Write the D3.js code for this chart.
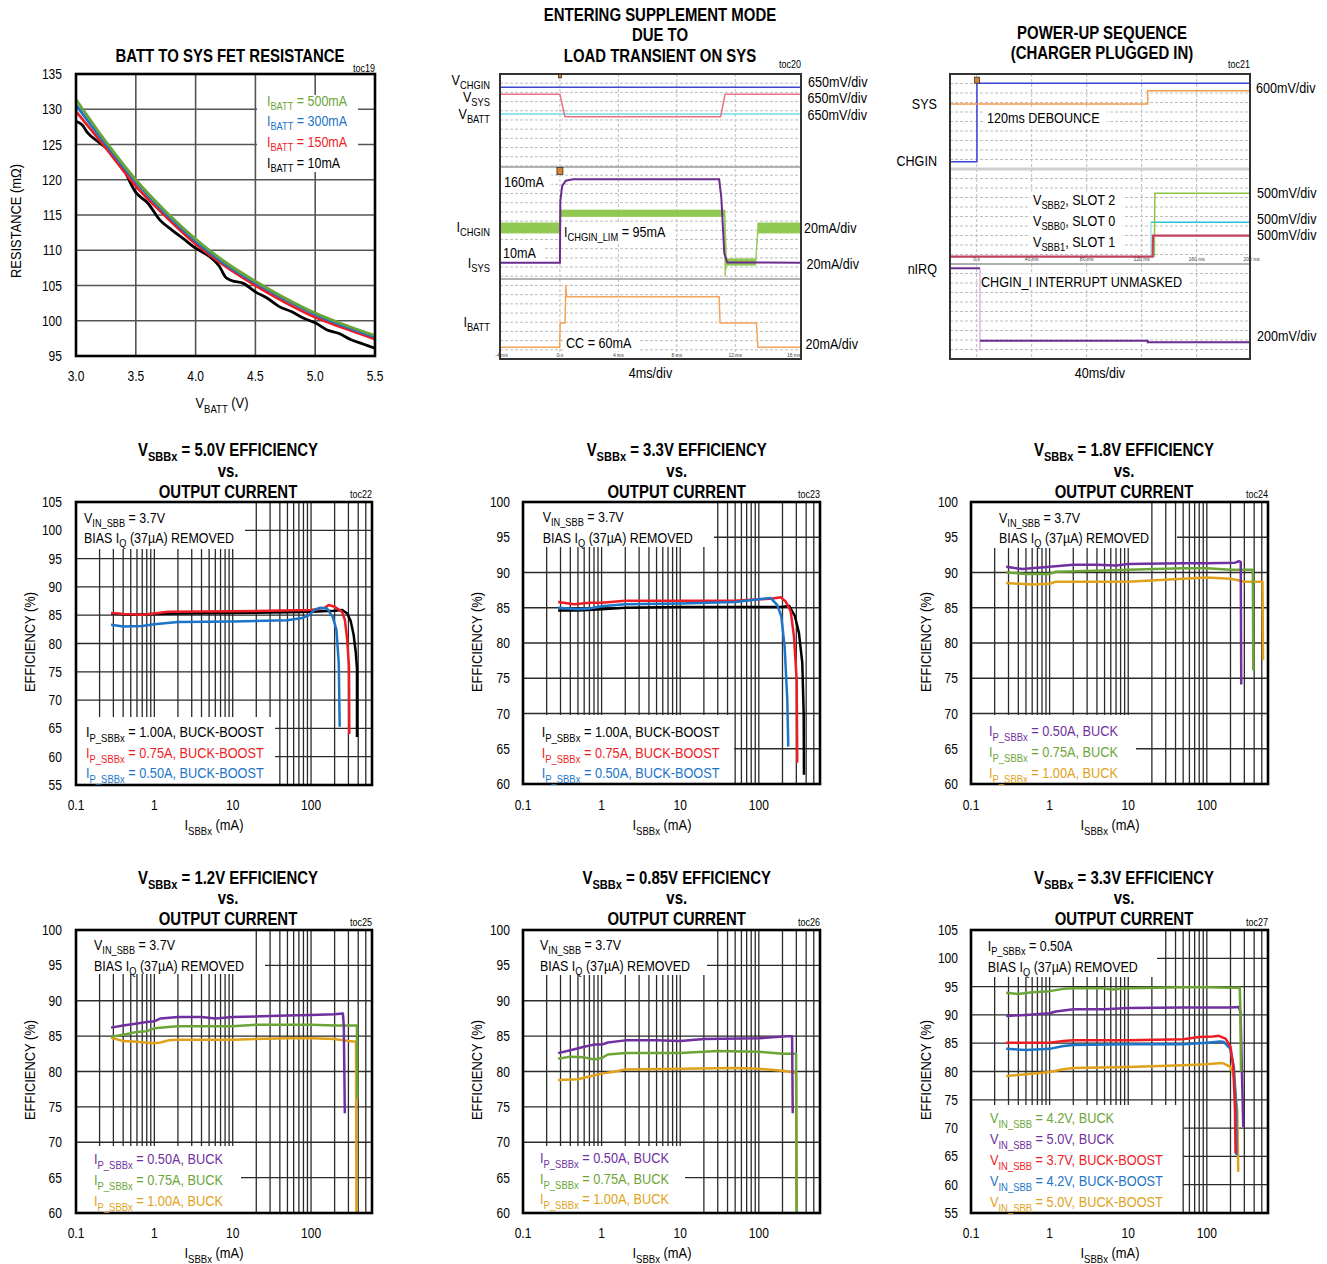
<!DOCTYPE html>
<html><head><meta charset="utf-8">
<script src="https://cdn.jsdelivr.net/npm/d3@7"></script>
<style>body{margin:0;background:#fff;} text{font-family:"Liberation Sans",Arial,sans-serif;white-space:pre;}</style>
</head><body>
<script>
// ================= DATA =================
// toc19 : BATT to SYS FET resistance (mOhm) vs VBATT (V)
const toc19_vbatt = [3.0,3.25,3.5,3.75,4.0,4.25,4.5,4.75,5.0,5.25,5.5];
const toc19_r500 = [131.4,125.4,120.0,115.5,111.6,108.3,105.6,103.2,101.1,99.4,97.9];
const toc19_r300 = [130.6,125.0,119.7,115.2,111.3,108.0,105.4,103.0,100.9,99.2,97.7];
const toc19_r150 = [129.7,124.5,119.1,114.8,110.9,107.7,105.0,102.6,100.5,98.9,97.4];
const toc19_vbatt10 = [3.0,3.05,3.1,3.2,3.3,3.4,3.5,3.6,3.7,3.8,3.9,4.0,4.1,4.2,4.25,4.3,4.4,4.5,4.6,4.7,4.8,4.9,5.0,5.1,5.2,5.3,5.4,5.5];
const toc19_r10 = [128.3,127.8,126.6,125.2,123.8,121.4,118.2,116.7,114.3,112.9,111.6,110.3,109.3,107.7,106.2,105.7,105.3,104.1,103.2,102.0,101.3,100.4,99.7,98.7,98.2,97.3,96.7,96.1];
const toc19_xticks = [3.0,3.5,4.0,4.5,5.0,5.5];
const toc19_yticks = [95,100,105,110,115,120,125,130,135];
const toc19_legend = ['I_{BATT} = 500mA','I_{BATT} = 300mA','I_{BATT} = 150mA','I_{BATT} = 10mA'];

// efficiency curves : [I_SBBx (mA), efficiency (%)]
const toc22_ip100 = [[0.28,85.3],[0.5,85.1],[1,85.2],[2,85.3],[10,85.4],[50,85.5],[100,85.6],[200,85.8],[250,85.9],[290,85.3],[320,84.0],[350,81.5],[372,78.5],[386,75.5],[386,63.5]];
const toc22_ip075 = [[0.28,85.4],[0.4,85.2],[0.7,85.1],[1,85.3],[1.5,85.6],[10,85.7],[100,85.9],[150,86.3],[168,86.8],[200,86.5],[249,85.6],[270,84.2],[288,81.0],[305,76.0],[308,64.0]];
const toc22_ip050 = [[0.28,83.3],[0.4,83.0],[0.7,83.1],[1,83.4],[2,83.8],[10,83.9],[50,84.1],[77,84.5],[95,85.0],[110,85.9],[129,86.3],[160,86.2],[189,84.7],[211,82.4],[226,76.5],[232,65.3]];
const toc23_ip100 = [[0.28,84.6],[0.5,84.6],[1,84.8],[2,85.0],[10,85.1],[100,85.1],[200,85.1],[242,85.3],[288,83.8],[324,81.4],[357,77.2],[372,70],[375,61.3]];
const toc23_ip075 = [[0.28,85.8],[0.45,85.5],[0.7,85.7],[1,85.7],[2,86.0],[10,86.0],[50,86.0],[100,86.2],[150,86.3],[189,86.5],[219,85.9],[254,84.5],[280,80.9],[303,74.8],[306,68],[308,63.0]];
const toc23_ip050 = [[0.28,85.0],[0.5,84.8],[0.7,84.9],[1,85.2],[2,85.5],[10,85.6],[50,85.8],[100,86.2],[141,86.4],[171,85.4],[193,83.8],[213,79.5],[230,72],[237,65.3]];
const toc24_ip050 = [[0.28,90.8],[0.45,90.5],[1,90.8],[2,91.1],[4,91.1],[7,91.0],[10,91.2],[50,91.3],[100,91.3],[230,91.4],[255,91.6],[270,91.5],[274,74.1]];
const toc24_ip075 = [[0.28,90.0],[0.5,89.8],[1,89.8],[1.2,90.1],[5,90.3],[10,90.4],[50,90.6],[100,90.6],[200,90.4],[385,90.4],[390,76.1]];
const toc24_ip100 = [[0.28,88.5],[0.6,88.3],[1,88.4],[1.2,88.7],[10,88.7],[50,89.1],[100,89.3],[200,89.1],[250,88.9],[300,88.7],[510,88.7],[519,77.6]];
const toc25_ip050 = [[0.28,86.2],[0.4,86.5],[0.6,86.8],[0.8,87.0],[1,87.1],[1.2,87.5],[2,87.7],[4,87.7],[6,87.5],[10,87.7],[50,87.9],[100,88.0],[200,88.1],[255,88.2],[262,86.5],[270,74.1]];
const toc25_ip075 = [[0.28,84.9],[0.4,85.2],[0.6,85.6],[0.8,85.7],[1,86.1],[1.5,86.3],[2,86.4],[10,86.4],[20,86.6],[100,86.6],[200,86.5],[385,86.5],[390,76.2]];
const toc25_ip100 = [[0.28,84.8],[0.4,84.3],[0.6,84.2],[1,84.0],[1.2,84.1],[1.5,84.4],[2,84.5],[10,84.5],[50,84.7],[100,84.7],[200,84.6],[300,84.3],[375,84.2],[380,60]];
const toc26_ip050 = [[0.28,82.6],[0.4,83.0],[0.6,83.5],[0.8,83.8],[1,83.8],[1.2,84.1],[2,84.4],[5,84.4],[10,84.3],[20,84.6],[100,84.7],[250,85.0],[265,85.0],[270,74.1]];
const toc26_ip075 = [[0.28,81.8],[0.4,82.1],[0.6,82.0],[0.8,81.7],[1,81.9],[1.2,82.4],[2,82.6],[10,82.6],[30,82.9],[100,82.8],[200,82.5],[298,82.5],[303,60]];
const toc26_ip100 = [[0.28,78.8],[0.5,78.9],[0.7,79.3],[1,79.7],[1.5,80.0],[2,80.3],[10,80.4],[50,80.5],[100,80.4],[200,80.1],[270,79.9],[298,79.8],[303,60]];
const toc27_buck42 = [[0.28,93.9],[0.4,93.7],[0.6,94.0],[1,94.2],[1.5,94.6],[2,94.7],[5,94.7],[6,94.5],[10,94.7],[50,94.9],[100,94.9],[200,94.8],[262,94.8],[268,90.5],[272,80]];
const toc27_buck50 = [[0.28,89.8],[0.5,90.0],[1,90.3],[1.2,90.6],[2,91.0],[5,91.0],[10,91.2],[50,91.3],[100,91.3],[200,91.3],[256,91.4],[269,90.3],[277,82.0],[291,70.2]];
const toc27_bb37 = [[0.28,85.1],[1,85.1],[1.5,85.4],[2,85.5],[10,85.5],[50,85.7],[80,86.1],[120,86.2],[142,86.3],[173,85.8],[200,84.4],[217,80.8],[228,73.2],[232,65.5]];
const toc27_bb42 = [[0.28,84.0],[0.5,83.8],[1,84.0],[1.5,84.5],[2,84.7],[10,84.8],[50,84.8],[100,85.1],[150,85.3],[165,85.2],[197,84.1],[221,80.8],[237,73.2],[239,65.2]];
const toc27_bb50 = [[0.28,79.2],[0.5,79.5],[1,79.9],[1.5,80.4],[2,80.6],[10,80.8],[50,81.1],[100,81.3],[150,81.5],[165,81.4],[200,80.8],[221,79.1],[244,73.2],[251,62.3]];

const eff_xticks = [0.1,1,10,100];
const eff_xtickLabels = ['0.1','1','10','100'];
const toc22_legend = ['I_{P_SBBx} = 1.00A, BUCK-BOOST','I_{P_SBBx} = 0.75A, BUCK-BOOST','I_{P_SBBx} = 0.50A, BUCK-BOOST'];
const buck_legend = ['I_{P_SBBx} = 0.50A, BUCK','I_{P_SBBx} = 0.75A, BUCK','I_{P_SBBx} = 1.00A, BUCK'];
const toc27_legend = ['V_{IN_SBB} = 4.2V, BUCK','V_{IN_SBB} = 5.0V, BUCK','V_{IN_SBB} = 3.7V, BUCK-BOOST','V_{IN_SBB} = 4.2V, BUCK-BOOST','V_{IN_SBB} = 5.0V, BUCK-BOOST'];

// scope traces : [time (ms), level (divisions from top)]
const toc20_vchgin = [[-4.1,1.45],[16.5,1.45]];
const toc20_vsys = [[-4.1,2.21],[0,2.21],[0.35,4.64],[11.0,4.64],[11.3,2.21],[16.5,2.21]];
const toc20_vbatt = [[-4.1,4.35],[16.5,4.35]];
const toc20_ichgin = [[-4.1,16.2,17.3],[-0.02,16.2,17.3],[0.02,14.8,15.5],[11.25,14.8,15.5],[11.3,14.8,22.0],[11.4,20.1,20.8],[13.4,20.1,20.8],[13.55,16.2,17.3],[16.5,16.2,17.3]];
const toc20_isys = [[-4.1,20.52],[0,20.52],[0.03,13.8],[0.15,12.2],[0.4,11.6],[0.9,11.45],[10.9,11.45],[11.05,13.5],[11.25,19.5],[11.45,20.5],[16.5,20.52]];
const toc20_ibatt = [[-4.1,29.73],[-0.02,29.73],[0.02,27.08],[0.35,27.08],[0.4,22.95],[0.45,24.22],[10.9,24.22],[10.96,27.08],[13.45,27.08],[13.55,29.73],[16.5,29.73]];
const toc20_timeLabels = [[-4,'-4 ms'],[0,'0 s'],[4,'4 ms'],[8,'8 ms'],[12,'12 ms'],[16,'16 ms']];
const toc21_chgin = [[-19.4,9.23],[0.2,9.23],[0.2,0.98],[198.8,0.98]];
const toc21_sys = [[-19.4,3.16],[124.4,3.16],[124.4,1.76],[198.8,1.76]];
const toc21_sbb1 = [[-19.4,19.23],[128,19.23],[128.2,17.02],[198.8,17.02]];
const toc21_sbb0 = [[126.8,15.61],[198.8,15.61]];
const toc21_sbb0_edge = [[126.8,19.23],[126.8,15.61]];
const toc21_sbb2 = [[129.2,19.23],[129.6,12.56],[198.8,12.56]];
const toc21_nirq_high = [[-19.4,20.45],[2.4,20.45]];
const toc21_nirq_low = [[2.4,28.07],[124.4,28.07],[124.4,28.24],[198.8,28.24]];
const toc21_nirq_edge = [[2.4,20.45],[2.4,29.1]];
const toc21_timeLabels = [[0,'0 s'],[40,'40 ms'],[80,'80 ms'],[120,'120 ms'],[160,'160 ms'],[200,'200 ms']];

// ================= DRAWING =================
const K='#000000', R='#ee1c25', B='#1c75c8', P='#7030a0', G='#6ca537', O='#e0a21a';
const svg = d3.select('body').append('svg').attr('width',1327).attr('height',1264).style('display','block');

function rt(parent, x, y, str, o = {}) {
  const size = o.size || 14, sx = o.sx || 0.86;
  let tr = `translate(${x},${y})`;
  if (o.rot) tr += ` rotate(${o.rot})`;
  tr += ` scale(${sx},1)`;
  const g = parent.append('g').attr('transform', tr);
  const t = g.append('text').attr('font-size', size).attr('text-anchor', o.anchor || 'start')
    .attr('fill', o.fill || '#000').attr('font-weight', o.bold ? 'bold' : 'normal');
  const parts = str.split(/(_\{[^}]*\})/).filter(p => p.length);
  let shifted = 0; const sh = size * 0.3;
  parts.forEach(p => {
    if (p.startsWith('_{')) {
      t.append('tspan').attr('font-size', size * 0.74).attr('dy', sh - shifted).text(p.slice(2, -1));
      shifted = sh;
    } else {
      const ts = t.append('tspan').text(p);
      if (shifted) { ts.attr('dy', -shifted); shifted = 0; }
    }
  });
  if (o.bg) {
    const b = t.node().getBBox();
    g.insert('rect', 'text').attr('x', b.x - o.bg[0]).attr('y', b.y - o.bg[1])
      .attr('width', b.width + o.bg[0] + o.bg[2]).attr('height', b.height + o.bg[1] + o.bg[3]).attr('fill', '#fff');
  }
  return g;
}
const TS = {size:14, sx:0.86};
const TITLE = {size:18, sx:0.83, bold:true, anchor:'middle'};

// ---------- toc19 ----------
(function(){
  const g = svg.append('g');
  const x = d3.scaleLinear().domain([3.0,5.5]).range([76,375]);
  const y = d3.scaleLinear().domain([95,135]).range([356,74]);
  toc19_xticks.slice(1,-1).forEach(v => g.append('line').attr('x1',x(v)).attr('x2',x(v)).attr('y1',74).attr('y2',356).attr('stroke','#555').attr('stroke-width',1.6));
  toc19_yticks.slice(1,-1).forEach(v => g.append('line').attr('x1',76).attr('x2',375).attr('y1',y(v)).attr('y2',y(v)).attr('stroke','#555').attr('stroke-width',1.6));
  g.append('rect').attr('x',257).attr('y',95).attr('width',101).attr('height',77).attr('fill','#fff');
  const line = d3.line().x(d=>x(d[0])).y(d=>y(d[1])).curve(d3.curveMonotoneX);
  const zip = (a,b)=>a.map((v,i)=>[v,b[i]]);
  [[toc19_vbatt10,toc19_r10,K],[toc19_vbatt,toc19_r150,R],[toc19_vbatt,toc19_r300,B],[toc19_vbatt,toc19_r500,G]].forEach(s=>{
    g.append('path').attr('d',line(zip(s[0],s[1]))).attr('fill','none').attr('stroke',s[2]).attr('stroke-width',2.8);
  });
  g.append('rect').attr('x',76).attr('y',74).attr('width',299).attr('height',282).attr('fill','none').attr('stroke','#000').attr('stroke-width',2.6);
  toc19_xticks.forEach(v => rt(g, x(v), 381, d3.format('.1f')(v), {...TS, anchor:'middle'}));
  toc19_yticks.forEach(v => rt(g, 62, y(v)+5, String(v), {...TS, anchor:'end'}));
  [G,B,R,K].forEach((c,i)=> rt(g, 267, [106,126,147,168][i], toc19_legend[i], {size:14.5, sx:0.86, fill:c}));
  rt(g, 230, 62, 'BATT TO SYS FET RESISTANCE', TITLE);
  rt(g, 375, 72, 'toc19', {size:10, sx:0.9, anchor:'end'});
  rt(g, 21, 221, 'RESISTANCE (mΩ)', {size:15, sx:0.86, anchor:'middle', rot:-90});
  rt(g, 222, 408, 'V_{BATT} (V)', {size:15, sx:0.86, anchor:'middle'});
})();

// ---------- scope panels ----------
function scope(c){
  const g = svg.append('g');
  const x = d3.scaleLinear().domain(c.td).range([c.x0,c.x1]);
  const y = d3.scaleLinear().domain([0,c.ny]).range([c.y0,c.y1]);
  d3.range(1,c.ny).forEach(i => g.append('line').attr('x1',c.x0).attr('x2',c.x1).attr('y1',y(i)).attr('y2',y(i)).attr('stroke','#bdbdbd').attr('stroke-dasharray','3,2'));
  c.tgrid.forEach(t => g.append('line').attr('x1',x(t)).attr('x2',x(t)).attr('y1',c.y0).attr('y2',c.y1).attr('stroke','#bdbdbd').attr('stroke-dasharray','3,2'));
  c.seps.forEach(s => g.append('line').attr('x1',c.x0).attr('x2',c.x1).attr('y1',y(s[0])).attr('y2',y(s[0])).attr('stroke',s[2]).attr('stroke-width',s[1]));
  (c.inner||[]).forEach(l => rt(g, l[0], l[1], l[2], {...TS, sx:0.9, bg:[3,1,8,0]}));
  const line = d3.line().x(d=>x(d[0])).y(d=>y(d[1]));
  const area = d3.area().x(d=>x(d[0])).y0(d=>y(d[1])).y1(d=>y(d[2]));
  (c.bands||[]).forEach(b => g.append('path').attr('d',area(b.d)).attr('fill',b.c).attr('stroke',b.c).attr('stroke-width',0.8).attr('opacity',0.9));
  c.traces.forEach(tr => g.append('path').attr('d',line(tr.d)).attr('fill','none').attr('stroke',tr.c).attr('stroke-width',tr.w||1.5));
  (c.tlabels||[]).forEach(l => rt(g, x(l[0]), y(c.tly), l[1], {size:5, sx:1, anchor:'middle', fill:'#444'}));
  (c.marks||[]).forEach(m => g.append('rect').attr('x',x(m[0])-m[2]/2).attr('y',y(m[1])-m[2]/2).attr('width',m[2]).attr('height',m[2]+1).attr('fill','#d8842c').attr('stroke','#333').attr('stroke-width',0.8));
  g.append('rect').attr('x',c.x0).attr('y',c.y0).attr('width',c.x1-c.x0).attr('height',c.y1-c.y0).attr('fill','none').attr('stroke','#333').attr('stroke-width',2);
  c.left.forEach(l => rt(g, c.lx, l[0], l[1], {...TS, sx:0.9, anchor:'end'}));
  c.right.forEach(l => rt(g, l[0], l[1], l[2], {...TS, sx:0.9}));
  c.title.forEach((t,i) => rt(g, c.tx, c.tb[i], t, TITLE));
  rt(g, c.x1, c.y0-6, c.toc, {size:10, sx:0.9, anchor:'end'});
  rt(g, (c.x0+c.x1)/2, 378, c.xlab, {...TS, sx:0.9, anchor:'middle'});
}

scope({x0:500,x1:801,y0:74,y1:359,td:[-4.1,16.5],ny:31,tgrid:[0,4,8,12],
  seps:[[10.12,1.5,'#9a9a9a'],[22.3,1.5,'#9a9a9a']],
  bands:[{d:toc20_ichgin,c:'#86c440'}],
  traces:[{d:toc20_vchgin,c:'#3b48d0'},{d:toc20_vbatt,c:'#6fdbe6'},{d:toc20_vsys,c:'#ef6f86'},{d:toc20_isys,c:'#6a2d8f',w:2},{d:toc20_ibatt,c:'#f4a45a'}],
  inner:[[504,187,'160mA'],[564,237,'I_{CHGIN_LIM} = 95mA'],[503,258,'10mA'],[566,348,'CC = 60mA']],
  tlabels:toc20_timeLabels, tly:30.8, marks:[[0,10.5,6],[0,0.15,3]],
  lx:490, left:[[85,'V_{CHGIN}'],[102,'V_{SYS}'],[119,'V_{BATT}'],[232,'I_{CHGIN}'],[268,'I_{SYS}'],[327,'I_{BATT}']],
  right:[[808,87,'650mV/div'],[807.5,103,'650mV/div'],[807.5,120,'650mV/div'],[804,233,'20mA/div'],[806.5,269,'20mA/div'],[805.5,349,'20mA/div']],
  title:['ENTERING SUPPLEMENT MODE','DUE TO','LOAD TRANSIENT ON SYS'], tx:660, tb:[21,41,62], toc:'toc20', xlab:'4ms/div'});

scope({x0:950,x1:1250,y0:74,y1:359,td:[-19.4,198.8],ny:30,tgrid:[0,40,80,120,160],
  seps:[[10,3,'#cfcfcf'],[20,1.5,'#9a9a9a']],
  traces:[{d:toc21_chgin,c:'#3a43d8'},{d:toc21_sys,c:'#f59b4a'},{d:toc21_nirq_edge,c:'#e2b4e2'},{d:toc21_sbb0_edge,c:'#a8e6ee'},{d:toc21_sbb0,c:'#22c4d4'},{d:toc21_sbb2,c:'#8cc63f'},{d:toc21_sbb1,c:'#c2405e',w:2.2},{d:toc21_nirq_high,c:'#6a2d8f',w:2},{d:toc21_nirq_low,c:'#6a2d8f',w:2}],
  inner:[[987,123,'120ms DEBOUNCE'],[1033,205,'V_{SBB2}, SLOT 2'],[1033,226,'V_{SBB0}, SLOT 0'],[1033,247,'V_{SBB1}, SLOT 1'],[981,287,'CHGIN_I INTERRUPT UNMASKED']],
  tlabels:toc21_timeLabels, tly:19.7, marks:[[0.2,0.6,5]],
  lx:937, left:[[109,'SYS'],[166,'CHGIN'],[274,'nIRQ']],
  right:[[1256,93,'600mV/div'],[1257,198,'500mV/div'],[1257,224,'500mV/div'],[1257,240,'500mV/div'],[1257,341,'200mV/div']],
  title:['POWER-UP SEQUENCE','(CHARGER PLUGGED IN)'], tx:1102, tb:[39,59], toc:'toc21', xlab:'40ms/div'});

// ---------- efficiency panels ----------
function effPanel(c){
  const g = svg.append('g');
  const x = d3.scaleLog().domain([0.1,600]).range([c.x0,c.x1]);
  const y = d3.scaleLinear().domain(c.yd).range([c.y1,c.y0]);
  const cl = c.clip;
  const vt = [];
  [-1,0,1,2].forEach(e => d3.range(1,10).forEach(k => { const v = k*Math.pow(10,e); if (v>0.1001 && v<599) vt.push(v); }));
  vt.forEach(v => { const px = x(v); let ya=c.y0, yb=c.y1;
    if (px < cl.tvx) ya = cl.tby; if (px < cl.bvx) yb = cl.bby;
    g.append('line').attr('x1',px).attr('x2',px).attr('y1',ya).attr('y2',yb).attr('stroke','#2a2a2a').attr('stroke-width',1.3); });
  d3.range(c.yd[0]+5, c.yd[1], 5).forEach(v => { const py = y(v); let xa=c.x0;
    if (py < cl.tby) xa = cl.thx; if (py > cl.bby) xa = cl.bhx;
    g.append('line').attr('x1',xa).attr('x2',c.x1).attr('y1',py).attr('y2',py).attr('stroke','#2a2a2a').attr('stroke-width',1.3); });
  const line = d3.line().x(d=>x(d[0])).y(d=>y(d[1]));
  c.series.forEach(s => g.append('path').attr('d',line(s.d)).attr('fill','none').attr('stroke',s.c).attr('stroke-width',2.5).attr('stroke-linejoin','round'));
  g.append('rect').attr('x',c.x0).attr('y',c.y0).attr('width',c.x1-c.x0).attr('height',c.y1-c.y0).attr('fill','none').attr('stroke','#000').attr('stroke-width',2.6);
  eff_xticks.forEach((v,i) => rt(g, x(v), c.xtb, eff_xtickLabels[i], {...TS, anchor:'middle'}));
  d3.range(c.yd[0], c.yd[1]+1, 5).forEach(v => rt(g, c.ytx, y(v)+5, String(v), {...TS, anchor:'end'}));
  c.note.forEach((t,i) => rt(g, c.nx, c.nb[i], t, {size:14.5, sx:0.86}));
  c.legend.forEach((t,i) => rt(g, c.lx, c.lb[i], t, {size:15, sx:0.85, fill:c.lc[i]}));
  [c.title,'vs.','OUTPUT CURRENT'].forEach((t,i) => rt(g, c.tx, c.tb[i], t, TITLE));
  rt(g, c.x1, c.y0-4, c.toc, {size:10, sx:0.9, anchor:'end'});
  rt(g, c.yt[0], c.yt[1], 'EFFICIENCY (%)', {size:15, sx:0.86, anchor:'middle', rot:-90});
  rt(g, c.xt, c.xtb+20, 'I_{SBBx} (mA)', {size:15, sx:0.86, anchor:'middle'});
}
const noteA = ['V_{IN_SBB} = 3.7V','BIAS I_{Q} (37µA) REMOVED'];
effPanel({toc:'toc22',x0:76,x1:372,y0:502,y1:785,yd:[55,105],title:'V_{SBBx} = 5.0V EFFICIENCY',tx:228,tb:[456,477,497.5],
  note:noteA,nx:84,nb:[523,543],clip:{tvx:245,tby:549,thx:245,bvx:275,bby:717,bhx:275},
  series:[{d:toc22_ip100,c:K},{d:toc22_ip075,c:R},{d:toc22_ip050,c:B}],legend:toc22_legend,lc:[K,R,B],lx:86,lb:[737,758,778],
  ytx:62,yt:[35,642],xt:214,xtb:810});
effPanel({toc:'toc23',x0:523,x1:820,y0:502,y1:784,yd:[60,100],title:'V_{SBBx} = 3.3V EFFICIENCY',tx:676.7,tb:[456,477,497.5],
  note:noteA,nx:542.7,nb:[522,543],clip:{tvx:712,tby:547,thx:714,bvx:732,bby:715,bhx:734},
  series:[{d:toc23_ip100,c:K},{d:toc23_ip075,c:R},{d:toc23_ip050,c:B}],legend:toc22_legend,lc:[K,R,B],lx:541.7,lb:[737,758,778],
  ytx:510,yt:[482,642],xt:662,xtb:810});
effPanel({toc:'toc24',x0:971,x1:1268,y0:502,y1:784,yd:[60,100],title:'V_{SBBx} = 1.8V EFFICIENCY',tx:1124,tb:[456,477,497.5],
  note:noteA,nx:999,nb:[523,543],clip:{tvx:1150,tby:548,thx:1177,bvx:1140,bby:715,bhx:1136},
  series:[{d:toc24_ip100,c:O},{d:toc24_ip075,c:G},{d:toc24_ip050,c:P}],legend:buck_legend,lc:[P,G,O],lx:989,lb:[736,757,778],
  ytx:958,yt:[931,642],xt:1110,xtb:810});
effPanel({toc:'toc25',x0:76,x1:372,y0:930,y1:1213,yd:[60,100],title:'V_{SBBx} = 1.2V EFFICIENCY',tx:228,tb:[884,904,925],
  note:noteA,nx:94,nb:[950,971],clip:{tvx:245,tby:974,thx:265,bvx:245,bby:1146,bhx:241},
  series:[{d:toc25_ip100,c:O},{d:toc25_ip075,c:G},{d:toc25_ip050,c:P}],legend:buck_legend,lc:[P,G,O],lx:94,lb:[1164,1185,1206],
  ytx:62,yt:[34.5,1070],xt:214,xtb:1238});
effPanel({toc:'toc26',x0:523,x1:820,y0:930,y1:1213,yd:[60,100],title:'V_{SBBx} = 0.85V EFFICIENCY',tx:676.7,tb:[884,904,925],
  note:noteA,nx:540,nb:[950,971],clip:{tvx:712,tby:975,thx:707,bvx:690,bby:1146,bhx:685},
  series:[{d:toc26_ip100,c:O},{d:toc26_ip075,c:G},{d:toc26_ip050,c:P}],legend:buck_legend,lc:[P,G,O],lx:540,lb:[1163,1184,1204],
  ytx:510,yt:[482,1070],xt:662,xtb:1238});
effPanel({toc:'toc27',x0:971,x1:1268,y0:930,y1:1213,yd:[55,105],title:'V_{SBBx} = 3.3V EFFICIENCY',tx:1124,tb:[884,904,925],
  note:['I_{P_SBBx} = 0.50A','BIAS I_{Q} (37µA) REMOVED'],nx:987.7,nb:[951,972],clip:{tvx:1160,tby:977,thx:1157,bvx:1180,bby:1105,bhx:1183},
  series:[{d:toc27_bb50,c:O},{d:toc27_bb42,c:B},{d:toc27_bb37,c:R},{d:toc27_buck50,c:P},{d:toc27_buck42,c:G}],legend:toc27_legend,lc:[G,P,R,B,O],lx:990,lb:[1123,1144,1165,1186,1207],
  ytx:958,yt:[931,1070],xt:1110,xtb:1238});
</script>
</body></html>
